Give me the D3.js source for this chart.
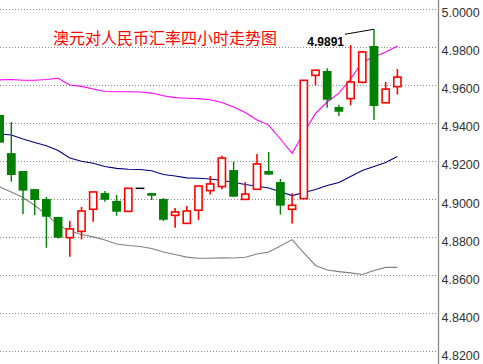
<!DOCTYPE html>
<html>
<head>
<meta charset="utf-8">
<script src="https://cdn.jsdelivr.net/npm/d3@7"></script>
<style>
  body { margin: 0; background: #fff; }
  svg { display: block; }
</style>
</head>
<body>
<div id="chart"></div>
<script>
// 4-hour candles, AUD/CNY
var bars = d3.range(35);
var open  = [4.9441,4.9241,4.9147,4.9052,4.9000,4.8906,4.8797,4.8830,4.8946,4.9031,4.8990,4.8935,4.9056,4.9031,4.9000,4.8914,4.8872,4.8941,4.9044,4.9065,4.9152,4.8998,4.9051,4.9147,4.9089,4.8946,4.9002,4.9649,4.9672,4.9483,4.9527,4.9613,4.9803,4.9505,4.9590];
var high  = [4.9441,4.9404,4.9147,4.9052,4.9011,4.8906,4.8885,4.8958,4.9037,4.9042,4.9021,4.9056,4.9056,4.9031,4.9005,4.8953,4.8963,4.9068,4.9121,4.9227,4.9196,4.9089,4.9236,4.9247,4.9105,4.9030,4.9623,4.9676,4.9686,4.9495,4.9808,4.9775,4.9891,4.9614,4.9682];
var low   = [4.9296,4.9091,4.8921,4.8916,4.8744,4.8793,4.8697,4.8788,4.8881,4.8986,4.8912,4.8935,4.9056,4.8995,4.8885,4.8849,4.8872,4.8890,4.9023,4.9051,4.9012,4.8998,4.9051,4.9128,4.8918,4.8872,4.9002,4.9597,4.9479,4.9436,4.9492,4.9607,4.9415,4.9504,4.9548];
var close = [4.9296,4.9126,4.9044,4.8995,4.8907,4.8797,4.8843,4.8937,4.9037,4.8996,4.8933,4.9056,4.9056,4.9017,4.8891,4.8932,4.8937,4.9068,4.9079,4.9215,4.9012,4.9026,4.9184,4.9128,4.8965,4.8967,4.9623,4.9676,4.9521,4.9458,4.9614,4.9772,4.9488,4.9577,4.9640];

// bollinger bands
var upper = [4.9625,4.9627,4.9623,4.9623,4.9627,4.9634,4.9598,4.9591,4.9577,4.9564,4.9563,4.9563,4.9562,4.9556,4.9542,4.9532,4.9529,4.9527,4.9521,4.9507,4.9483,4.9454,4.9415,4.9388,4.9315,4.9240,4.9346,4.9449,4.9509,4.9556,4.9630,4.9719,4.9745,4.9772,4.9803];
var mid   = [4.9341,4.9336,4.9315,4.9297,4.9280,4.9255,4.9215,4.9198,4.9188,4.9171,4.9161,4.9156,4.9155,4.9148,4.9129,4.9121,4.9111,4.9109,4.9105,4.9097,4.9088,4.9076,4.9067,4.9058,4.9038,4.9018,4.9034,4.9050,4.9071,4.9087,4.9118,4.9150,4.9171,4.9192,4.9223];
var lower = [4.9063,4.9037,4.9008,4.8966,4.8919,4.8864,4.8832,4.8814,4.8801,4.8785,4.8764,4.8756,4.8751,4.8740,4.8722,4.8709,4.8695,4.8689,4.8689,4.8691,4.8690,4.8694,4.8711,4.8722,4.8753,4.8787,4.8717,4.8651,4.8627,4.8619,4.8612,4.8604,4.8625,4.8641,4.8641];

var yTicks = [5.00,4.98,4.96,4.94,4.92,4.90,4.88,4.86,4.84,4.82];
var title = "澳元对人民币汇率四小时走势图";

var width = 483, height = 364;
var axisX = 438.5;

var svg = d3.select("#chart").append("svg")
    .attr("width", width)
    .attr("height", height);

var x = d3.scaleBand().domain(bars).range([-7.71, 404.7]).padding(0.25);
var y = d3.scaleLinear().domain([4.82, 5.0]).range([351.4, 8.5]);
var bw = x.bandwidth();
function cx(i) { return x(i) + bw / 2; }

// dotted grid
svg.append("g").selectAll("line")
    .data(yTicks)
  .enter().append("line")
    .attr("x1", 0).attr("x2", axisX - 2)
    .attr("y1", function(d) { return Math.round(y(d)) + 0.5; })
    .attr("y2", function(d) { return Math.round(y(d)) + 0.5; })
    .attr("stroke", "#888")
    .attr("stroke-dasharray", "1,2");

// axis
svg.append("line")
    .attr("x1", axisX).attr("x2", axisX)
    .attr("y1", 0).attr("y2", height)
    .attr("stroke", "#888").attr("stroke-width", 1.3);

var ax = svg.append("g")
    .attr("transform", "translate(" + axisX + ",0)")
    .call(d3.axisRight(y).tickValues(yTicks).tickFormat(d3.format(".4f")).tickSize(0).tickPadding(3));
ax.select(".domain").remove();
ax.selectAll("text")
    .attr("dy", "0.64em")
    .style("font-family", "'Liberation Sans', Arial, sans-serif")
    .style("font-size", "12.5px")
    .style("fill", "#333");

// bands
function band(vals, color) {
  svg.append("path")
      .datum(vals)
      .attr("fill", "none")
      .attr("stroke", color)
      .attr("stroke-width", 1.1)
      .attr("d", d3.line().x(function(d, i) { return cx(i); }).y(function(d) { return y(d); }));
}
band(upper, "#ff00ff");
band(mid, "#000080");
band(lower, "#808080");

// candles
var g = svg.append("g");
bars.forEach(function(i) {
  var o = open[i], c = close[i];
  if (o === c) {
    g.append("line")
        .attr("x1", x(i)).attr("x2", x(i) + bw)
        .attr("y1", y(o)).attr("y2", y(o))
        .attr("stroke", "#000").attr("stroke-width", 1.5);
    return;
  }
  var up = c > o;
  var col = up ? "#ff0000" : "#008000";
  g.append("line")
      .attr("x1", cx(i)).attr("x2", cx(i))
      .attr("y1", y(high[i])).attr("y2", y(low[i]))
      .attr("stroke", col).attr("stroke-width", up ? 1.6 : 1.4);
  if (up) {
    g.append("rect")
        .attr("x", x(i) + 0.8).attr("width", bw - 1.6)
        .attr("y", y(c)).attr("height", y(o) - y(c))
        .attr("fill", "#fff").attr("stroke", col).attr("stroke-width", 1.6);
  } else {
    g.append("rect")
        .attr("x", x(i)).attr("width", bw)
        .attr("y", y(o)).attr("height", y(c) - y(o))
        .attr("fill", col);
  }
});

// max high label
var iMax = d3.maxIndex(high);
var lx = cx(iMax) - 30;
svg.append("text")
    .attr("x", lx).attr("y", y(high[iMax]) + 17)
    .attr("text-anchor", "end")
    .style("font-family", "'Liberation Sans', Arial, sans-serif")
    .style("font-size", "12px")
    .style("font-weight", "bold")
    .style("fill", "#000")
    .text(d3.format(".4f")(high[iMax]));
svg.append("line")
    .attr("x1", lx + 1).attr("y1", y(high[iMax]) + 5)
    .attr("x2", cx(iMax)).attr("y2", y(high[iMax]))
    .attr("stroke", "#000").attr("stroke-width", 1);

// title
svg.append("text")
    .attr("x", 53).attr("y", 43.5)
    .style("font-family", "'Noto Sans CJK SC', sans-serif")
    .style("font-size", "16px")
    .style("fill", "#ff0000")
    .text(title);
</script>
</body>
</html>
